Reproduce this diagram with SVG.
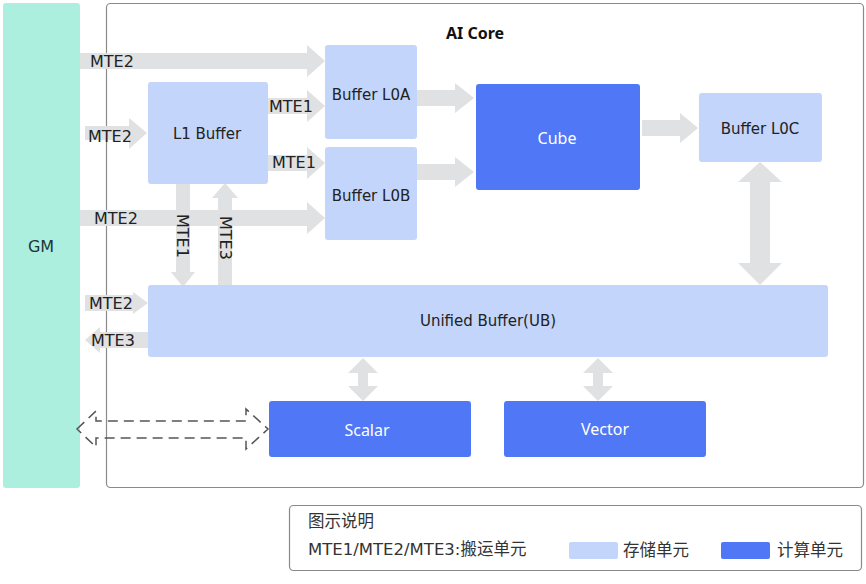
<svg xmlns="http://www.w3.org/2000/svg" width="866" height="584" viewBox="0 0 866 584">
<style>
text{font-family:"DejaVu Sans","Noto Sans CJK SC",sans-serif;font-size:15px;fill:#222}
.lb{font-size:16px}
.lg{font-size:16.5px;fill:#333}
.wt{font-family:"Noto Sans","Noto Sans CJK SC",sans-serif;font-size:16px;fill:#fff}
.st{fill:#c3d5fa}
.cp{fill:#5077f6}
.ar{fill:#dfe1e3}
.c{text-anchor:middle}
.frame{fill:#fff;stroke:#8a8a8a;stroke-width:1.2}
</style>
<rect x="0" y="0" width="866" height="584" fill="#fff"/>
<g id="gm"><rect x="3" y="3" width="77" height="485" rx="3" fill="#adefdf"/><text x="41" y="252" class="c" style="font-size:16px;fill:#1e3636">GM</text></g>
<g id="aicore"><rect class="frame" x="106.5" y="3.5" width="757" height="484" rx="4"/><text x="475" y="39" class="c" style="font-family:'Noto Sans',sans-serif;font-weight:bold;font-size:16px;fill:#111">AI Core</text></g>
<g id="connectors">
<polygon class="ar" points="80,53 307,53 307,45 325,61 307,77 307,69 80,69"/>
<polygon class="ar" points="85,126 129,126 129,118 147,133 129,149 129,140 85,140"/>
<polygon class="ar" points="268,98 307,98 307,90 325,106 307,122 307,114 268,114"/>
<polygon class="ar" points="268,155 307,155 307,147 325,163 307,179 307,171 268,171"/>
<polygon class="ar" points="80,210 307,210 307,202 325,218 307,234 307,226 80,226"/>
<polygon class="ar" points="176,184 190,184 190,272 195,272 183,287 171,272 176,272"/>
<polygon class="ar" points="218,285 232,285 232,198 238,198 225,183 212,198 218,198"/>
<polygon class="ar" points="85,295 133,295 133,292 148,303 133,314 133,311 85,311"/>
<polygon class="ar" points="148,332 100,332 100,327 85,340 100,353 100,348 148,348"/>
<polygon class="ar" points="417,90 455,90 455,83 474,98 455,113 455,106 417,106"/>
<polygon class="ar" points="417,164 455,164 455,157 474,172 455,187 455,180 417,180"/>
<polygon class="ar" points="642,120 680,120 680,113 698,128 680,143 680,136 642,136"/>
<polygon class="ar" points="760,162 782,182 770,182 770,263 782,263 760,285 738,263 750,263 750,182 738,182"/>
<polygon class="ar" points="363,358 378,373 368,373 368,386 378,386 363,401 348,386 358,386 358,373 348,373"/>
<polygon class="ar" points="598,358 613,373 603,373 603,386 613,386 598,401 583,386 593,386 593,373 583,373"/>
<polygon points="77,429 96,411 96,421 246,421 246,409 268,429 246,449 246,438 96,438 96,447" fill="none" stroke="#555" stroke-width="1.5" stroke-dasharray="10,6"/>
<text class="lb" x="90" y="67">MTE2</text>
<text class="lb" x="88" y="142">MTE2</text>
<text class="lb" x="269" y="112">MTE1</text>
<text class="lb" x="272" y="168">MTE1</text>
<text class="lb" x="94" y="224">MTE2</text>
<text class="lb" x="89" y="309">MTE2</text>
<text class="lb" x="91" y="346">MTE3</text>
<text class="lb" transform="translate(177,214) rotate(90)">MTE1</text>
<text class="lb" transform="translate(220,216) rotate(90)">MTE3</text>
</g>
<g id="l1"><rect class="st" x="148" y="82" width="120" height="102" rx="3"/><text x="207" y="139" class="c">L1 Buffer</text></g>
<g id="l0a"><rect class="st" x="325" y="45" width="92" height="94" rx="3"/><text x="371" y="100" class="c">Buffer L0A</text></g>
<g id="l0b"><rect class="st" x="325" y="147" width="92" height="93" rx="3"/><text x="371" y="201" class="c">Buffer L0B</text></g>
<g id="cube"><rect class="cp" x="476" y="84" width="164" height="106" rx="3"/><text x="557" y="144" class="c wt">Cube</text></g>
<g id="l0c"><rect class="st" x="699" y="93" width="123" height="69" rx="3"/><text x="760" y="134" class="c">Buffer L0C</text></g>
<g id="ub"><rect class="st" x="148" y="285" width="680" height="72" rx="3"/><text x="488" y="326" class="c">Unified Buffer(UB)</text></g>
<g id="scalar"><rect class="cp" x="269" y="401" width="202" height="56" rx="3"/><text x="367" y="436" class="c wt">Scalar</text></g>
<g id="vector"><rect class="cp" x="504" y="401" width="202" height="56" rx="3"/><text x="605" y="435" class="c wt">Vector</text></g>
<g id="legend">
<rect class="frame" x="289.5" y="505.5" width="572" height="65" rx="4"/>
<text class="lg" x="308" y="527">图示说明</text>
<text class="lg" x="308" y="555">MTE1/MTE2/MTE3:搬运单元</text>
<rect class="st" x="569" y="542" width="49" height="17" rx="2"/>
<text class="lg" x="623" y="556">存储单元</text>
<rect class="cp" x="721" y="542" width="49" height="17" rx="2"/>
<text class="lg" x="777" y="556">计算单元</text>
</g>
</svg>
